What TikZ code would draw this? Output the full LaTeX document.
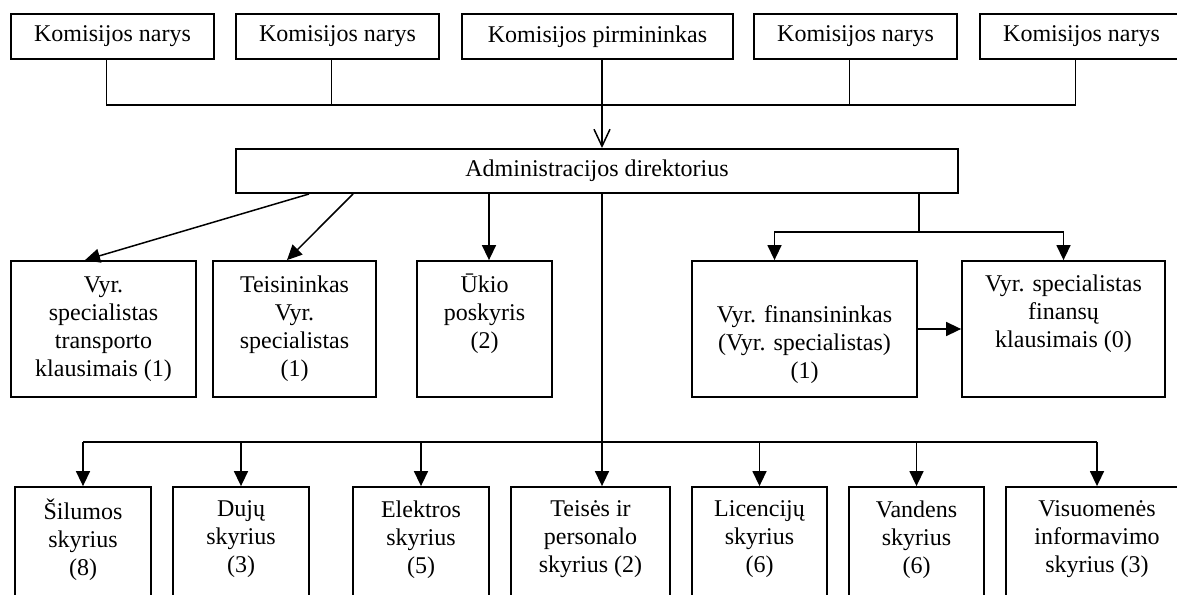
\documentclass[tikz,border=0pt]{standalone}
\usepackage{fontspec}
\setmainfont{Liberation Serif}
\usepackage{tikz}
\usetikzlibrary{positioning,arrows.meta}

\begin{document}
\begin{tikzpicture}[
  x=1pt,y=-1pt,
  every node/.style={font=\fontsize{24}{28}\selectfont},
  member/.style={rectangle,draw,line width=1.8pt,minimum width=203pt,minimum height=45pt,inner sep=0pt},
  unit/.style={rectangle,draw,line width=1.8pt,minimum height=136pt,align=center,inner sep=0pt},
  link/.style={line width=1.5pt},
  arr/.style={link,-{Triangle[length=15pt,width=14pt]}},
  barb/.style={link,-{Straight Barb[length=17pt,width=16pt]}}
]
\useasboundingbox (0,0) rectangle (1177,594);
\clip (0,0) rectangle (1177,594);
\fill[white] (0,0) rectangle (1177,594);

% komisija
\node[member] (narys1) at (112.5,36.5) {Komisijos narys};
\node[member] (narys2) at (337.5,36.5) {Komisijos narys};
\node[member,minimum width=271pt] (pirm) at (597.5,36.5) {Komisijos pirmininkas};
\node[member] (narys3) at (855.5,36.5) {Komisijos narys};
\node[member] (narys4) at (1081.5,36.5) {Komisijos narys};

\node[member,minimum width=722pt,minimum height=44pt,line width=2pt] (direktor) at (597,171) {Administracijos direktorius};

% specialistai
\node[unit,minimum width=185pt] (transp) at (103.5,329) {Vyr.\\specialistas\\transporto\\klausimais (1)};
\node[unit,minimum width=163pt] (teisin) at (294.5,329) {Teisininkas\\Vyr.\\specialistas\\(1)};
\node[unit,minimum width=135pt] (ukio) at (484.5,329) {Ūkio\\poskyris\\(2)\\\strut};
\node[unit,minimum width=225pt] (finvyr) at (804.5,329) {\strut\\Vyr. finansininkas\\(Vyr. specialistas)\\(1)};
\node[unit,minimum width=203pt] (finspec) at (1063.5,329) {Vyr. specialistas\\finansų\\klausimais (0)\\\strut};

% skyriai
\node[unit,minimum width=136pt] (silumos) at (83,555) {Šilumos\\skyrius\\(8)\\\strut};
\node[unit,minimum width=136pt] (duju) at (241,555) {Dujų\\skyrius\\(3)\\\strut};
\node[unit,minimum width=136pt] (elektros) at (421,555) {Elektros\\skyrius\\(5)\\\strut};
\node[unit,minimum width=159pt] (teises) at (590.5,555) {Teisės ir\\personalo\\skyrius (2)\\\strut};
\node[unit,minimum width=135pt] (licenc) at (759.5,555) {Licencijų\\skyrius\\(6)\\\strut};
\node[unit,minimum width=135pt] (vandens) at (916.5,555) {Vandens\\skyrius\\(6)\\\strut};
\node[unit,minimum width=182pt] (visuom) at (1097,555) {Visuomenės\\informavimo\\skyrius (3)\\\strut};

\coordinate (spine) at (602,0);
\coordinate (finx) at (919,0);
\coordinate (finbus) at (0,232);
\coordinate (lowbus) at (0,442);

% komisija -> direktorius
\draw[link] ([xshift=-6pt]narys1.south) -- ++(0,45) -| ([xshift=-6pt]narys4.south);
\draw[link] ([xshift=-6pt]narys2.south) -- ++(0,45);
\draw[link] ([xshift=-6pt]narys3.south) -- ++(0,45);
\draw[barb] (spine |- pirm.south) -- (spine |- direktor.north);

% direktorius -> specialistai
\draw[arr] ([xshift=-288pt]direktor.south) -- ([xshift=-18.5pt]transp.north);
\draw[arr] ([xshift=-244pt]direktor.south) -- ([xshift=-7.5pt]teisin.north);
\draw[arr] ([xshift=-108pt]direktor.south) -- ([xshift=4.5pt]ukio.north);
\draw[link] (finx |- direktor.south) -- (finx |- finbus);
\draw[arr] (finx |- finbus) -| ([xshift=-30pt]finvyr.north);
\draw[arr] (finx |- finbus) -| (finspec.north);
\draw[arr] (finvyr.east) -- (finspec.west);

% direktorius -> skyriai
\draw[arr] (spine |- direktor.south) -- (spine |- teises.north);
\draw[link] (silumos.north |- lowbus) -- (visuom.north |- lowbus);
\draw[arr] (silumos.north |- lowbus) -- (silumos.north);
\draw[arr] (duju.north |- lowbus) -- (duju.north);
\draw[arr] (elektros.north |- lowbus) -- (elektros.north);
\draw[arr] (licenc.north |- lowbus) -- (licenc.north);
\draw[arr] (vandens.north |- lowbus) -- (vandens.north);
\draw[arr] (visuom.north |- lowbus) -- (visuom.north);
\end{tikzpicture}
\end{document}
